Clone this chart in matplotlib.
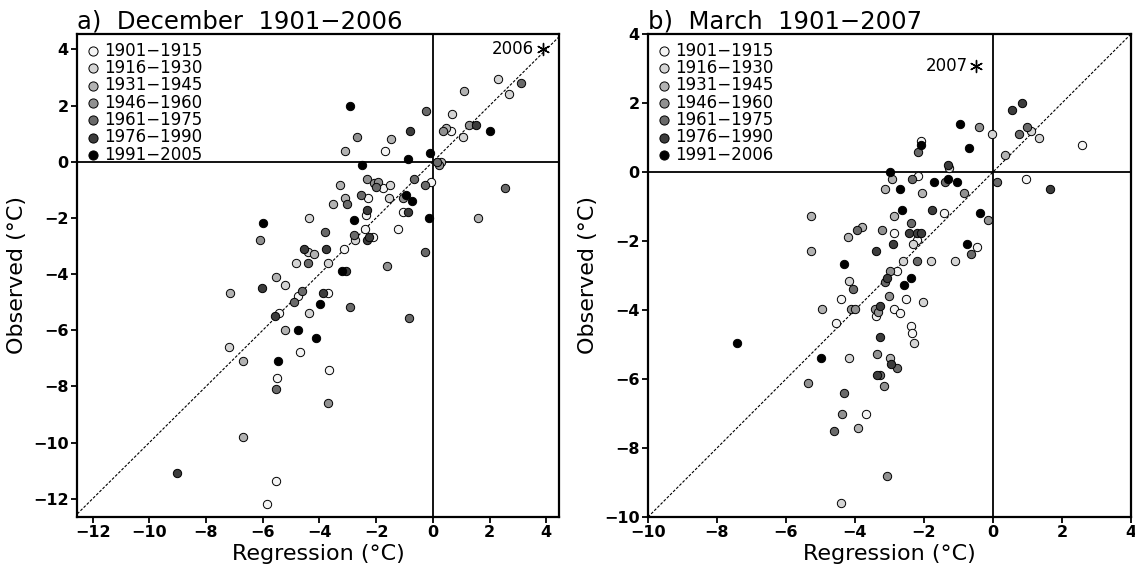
# Regression vs observed temperature, two scatter panels
import matplotlib
matplotlib.use("Agg")
import matplotlib.pyplot as plt

# ---- data ----
periods_a = ["1901−1915", "1916−1930", "1931−1945", "1946−1960",
             "1961−1975", "1976−1990", "1991−2005"]
periods_b = ["1901−1915", "1916−1930", "1931−1945", "1946−1960",
             "1961−1975", "1976−1990", "1991−2006"]

# a) December: regression x, observed y, period group g
dec_x = [2.29, 2.70, 3.11, 1.09, -2.91, -0.25, 0.68, -2.66, -1.47, -0.80,
         0.35, 0.45, 0.65, 1.26, 1.53, 1.06, 2.03, -3.11, -1.68, -0.88,
         -0.11, -2.51, 0.15, 0.29, 0.21, 2.56, -3.27, -2.31, -2.09, -1.94,
         -2.01, -1.76, -1.50, -0.68, -0.29, -0.08,
         -3.10, -2.52, -2.30, -3.02, -3.51, -1.54, -1.04, -0.93, -0.72, -1.04,
         -0.88, -0.15, 1.61, -2.32, -2.37, -2.77, -4.37, -5.99, -6.08, -3.79,
         -2.38, -2.77, -2.73, -2.31, -2.24, -2.11, -1.23, -4.55, -4.40, -4.20,
         -3.78, -3.15, -0.29, -4.81, -4.41, -3.70, -3.20, -3.08, -1.62, -5.52,
         -5.22, -6.01, -7.16, -4.77, -4.62, -3.88, -3.70, -4.91, -3.99, -2.91,
         -5.41, -5.58, -4.38, -0.83, -5.20, -4.77, -4.12, -7.18, -4.68, -6.68,
         -5.45, -3.67,
         -5.48, -5.52, -3.70, -6.71, -9.04, -5.52, -5.86]
dec_y = [2.93, 2.41, 2.81, 2.52, 2.00, 1.80, 1.71, 0.89, 0.80, 1.09,
         1.09, 1.21, 1.09, 1.31, 1.31, 0.89, 1.09, 0.39, 0.39, 0.09,
         0.30, -0.11, 0.00, -0.02, -0.12, -0.93, -0.81, -0.62, -0.77, -0.72,
         -0.89, -0.93, -0.81, -0.62, -0.81, -0.72,
         -1.28, -1.19, -1.28, -1.50, -1.50, -1.28, -1.28, -1.19, -1.40, -1.80,
         -1.80, -2.00, -2.00, -1.70, -1.89, -2.09, -2.00, -2.19, -2.80, -2.49,
         -2.40, -2.60, -2.80, -2.80, -2.69, -2.69, -2.40, -3.09, -3.20, -3.29,
         -3.09, -3.09, -3.20, -3.60, -3.60, -3.60, -3.89, -3.89, -3.70, -4.10,
         -4.39, -4.50, -4.69, -4.79, -4.59, -4.69, -4.69, -4.99, -5.08, -5.18,
         -5.38, -5.48, -5.38, -5.58, -6.00, -6.00, -6.29, -6.59, -6.79, -7.09,
         -7.09, -7.40,
         -7.70, -8.10, -8.60, -9.79, -11.07, -11.37, -12.17]
dec_g = [1, 1, 4, 2, 6, 4, 1, 3, 2, 5,
         3, 2, 0, 3, 5, 1, 6, 2, 0, 6,
         6, 6, 4, 2, 3, 4, 2, 3, 3, 3,
         4, 0, 1, 4, 4, 0,
         2, 4, 0, 4, 2, 1, 3, 6, 6, 0,
         5, 6, 2, 5, 0, 6, 1, 6, 3, 4,
         0, 4, 1, 5, 5, 0, 0, 5, 1, 2,
         5, 0, 4, 1, 4, 1, 6, 5, 3, 2,
         1, 5, 2, 0, 4, 5, 0, 4, 6, 4,
         0, 5, 1, 4, 2, 6, 6, 1, 0, 2,
         6, 0,
         0, 4, 3, 2, 5, 0, 0]
dec_star = (3.87, 4.0)
dec_star_label = "2006"

# b) March
mar_x = [2.58, 1.34, 0.83, 0.56, 0.98, 1.09, 0.74, 0.34, -0.02, -0.40,
         -0.96, -0.69, -2.10, -2.10, -2.17, -1.30, -1.27, -3.00, -2.92, -2.17,
         -2.36, -1.30, -1.71, -1.39, -1.03, -3.12, -2.69, -2.07, -0.83, 0.13,
         0.97, 1.65,
         -5.28, -2.64, -2.87, -1.76, -1.43, -0.37, -0.15, -3.94, -3.81, -3.22,
         -2.37, -2.88, -2.43, -2.20, -2.09, -4.19, -2.20, -2.32, -2.90, -5.28,
         -3.40, -0.75, -0.47, -0.64, -4.33, -2.60, -2.19, -1.81, -1.11, -3.00,
         -2.78, -3.08, -3.12, -2.37, -2.57, -4.17, -4.07, -3.01, -4.41, -2.52,
         -2.03, -4.95, -4.11, -4.01, -3.42, -3.28, -3.32, -3.40, -2.88, -2.71,
         -4.54, -2.37, -2.34, -2.30, -3.28, -7.43, -4.99, -4.16, -3.35, -3.00,
         -2.95, -2.77, -3.35, -3.28,
         -3.17, -5.35, -4.33, -4.37, -3.67, -4.61, -3.90, -3.07, -4.41]
mar_y = [0.78, 1.00, 2.00, 1.80, 1.29, 1.19, 1.09, 0.49, 1.09, 1.29,
         1.39, 0.69, 0.90, 0.78, 0.59, 0.20, 0.11, 0.00, -0.20, -0.11,
         -0.20, -0.20, -0.30, -0.30, -0.30, -0.50, -0.50, -0.60, -0.60, -0.30,
         -0.20, -0.50,
         -1.28, -1.09, -1.28, -1.09, -1.18, -1.18, -1.39, -1.68, -1.59, -1.68,
         -1.49, -1.78, -1.78, -1.78, -1.78, -1.88, -1.98, -2.08, -2.08, -2.29,
         -2.29, -2.08, -2.17, -2.38, -2.68, -2.58, -2.58, -2.58, -2.58, -2.88,
         -2.88, -3.08, -3.18, -3.08, -3.28, -3.17, -3.38, -3.58, -3.68, -3.68,
         -3.78, -3.97, -3.97, -3.97, -3.97, -3.88, -4.07, -4.16, -3.97, -4.08,
         -4.38, -4.47, -4.67, -4.97, -4.77, -4.97, -5.38, -5.38, -5.27, -5.38,
         -5.56, -5.67, -5.88, -5.88,
         -6.20, -6.11, -6.42, -7.01, -7.01, -7.51, -7.41, -8.80, -9.59]
mar_g = [0, 1, 5, 5, 4, 1, 4, 2, 1, 3,
         6, 6, 0, 6, 4, 5, 1, 6, 2, 0,
         4, 6, 6, 4, 6, 2, 6, 2, 3, 4,
         0, 5,
         2, 6, 2, 5, 0, 6, 3, 4, 2, 3,
         4, 0, 5, 5, 5, 2, 0, 1, 5, 2,
         5, 6, 0, 4, 6, 1, 4, 1, 1, 3,
         0, 5, 4, 6, 6, 1, 4, 3, 0, 0,
         1, 2, 3, 3, 3, 5, 3, 0, 0, 0,
         0, 0, 0, 1, 5, 6, 6, 1, 3, 2,
         5, 4, 5, 4,
         3, 3, 4, 3, 0, 4, 2, 3, 1]
mar_star = (-0.49, 3.08)
mar_star_label = "2007"

# grey shades per period (light -> black)
shades = ["#f4f4f4", "#d4d4d4", "#b2b2b2", "#919191", "#6a6a6a", "#3c3c3c", "#000000"]

plt.rcParams['font.family'] = ['DejaVu Sans']


def draw_panel(ax, xs, ys, gs, labels, star, star_label, xlim, ylim, ticks, title):
    # zero lines and 1:1 line
    ax.axhline(0, color="k", lw=1.3, zorder=1)
    ax.axvline(0, color="k", lw=1.3, zorder=1)
    lo, hi = min(xlim[0], ylim[0]), max(xlim[1], ylim[1])
    ax.plot([lo, hi], [lo, hi], color="k", lw=0.8, ls=(0, (2.5, 1.5)), zorder=1)
    # points, one scatter per period
    for g, lab in enumerate(labels):
        px = [x for x, k in zip(xs, gs) if k == g]
        py = [y for y, k in zip(ys, gs) if k == g]
        ax.scatter(px, py, s=36, c=shades[g], edgecolors="k", linewidths=0.7,
                   label=lab, zorder=3)
    # last year marked with an asterisk
    ax.scatter([star[0]], [star[1]], marker=(6, 2, 0), s=75, c="k", linewidths=1.0, zorder=4)
    ax.annotate(star_label, star, xytext=(-6, 0), textcoords="offset points",
                ha="right", va="center", fontsize=12)
    ax.set_xlim(xlim)
    ax.set_ylim(ylim)
    ax.set_xticks(ticks)
    ax.set_yticks(ticks)
    ax.tick_params(direction="out", length=4, width=1.3, labelsize=11.5, pad=2)
    for t in ax.get_xticklabels() + ax.get_yticklabels():
        t.set_fontweight("bold")
    for sp in ax.spines.values():
        sp.set_linewidth(1.6)
    ax.set_xlabel("Regression (°C)", fontsize=16, labelpad=3)
    ax.set_ylabel("Observed (°C)", fontsize=16, labelpad=4)
    ax.set_title(title, loc="left", fontsize=17.5, pad=4)
    ax.legend(loc="upper left", frameon=False, fontsize=12, handletextpad=0.2,
              labelspacing=-0.04, borderaxespad=0.25, handlelength=1.0,
              borderpad=0.2, markerscale=1.1)


fig = plt.figure(figsize=(11.35, 5.76), dpi=100)
ax1 = fig.add_axes([77 / 1135, 59 / 576, 482 / 1135, 483 / 576])
ax2 = fig.add_axes([648 / 1135, 59 / 576, 483 / 1135, 483 / 576])

draw_panel(ax1, dec_x, dec_y, dec_g, periods_a, dec_star, dec_star_label,
           (-12.55, 4.45), (-12.65, 4.55), range(-12, 5, 2), "a)  December  1901−2006")
draw_panel(ax2, mar_x, mar_y, mar_g, periods_b, mar_star, mar_star_label,
           (-10, 4), (-10, 4), range(-10, 5, 2), "b)  March  1901−2007")

fig.savefig("out.png", dpi=100)
